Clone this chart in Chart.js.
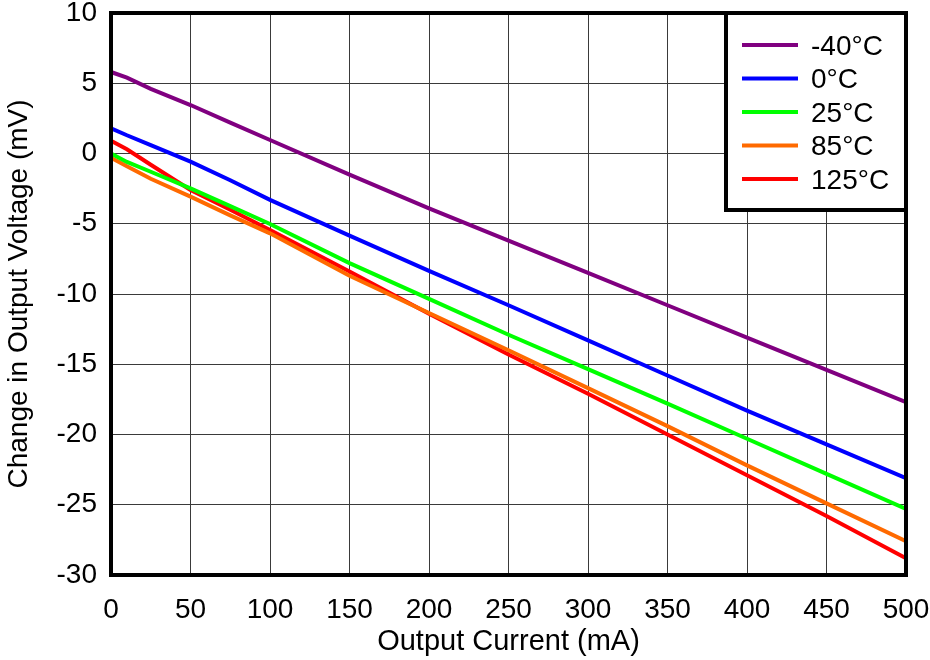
<!DOCTYPE html>
<html>
<head>
<meta charset="utf-8">
<script src="https://cdn.jsdelivr.net/npm/chart.js@4"></script>
<style>
    body { margin: 0; background: #fff; }
    #wrap { width: 930px; height: 660px; }
</style>
</head>
<body>
<div id="wrap"><canvas id="chart" width="930" height="660"></canvas></div>
<script>
// Output current points (mA)
const currents = [0, 10, 25, 50, 75, 100, 150, 200, 250, 300, 350, 400, 450, 500];

// Change in output voltage (mV) for each temperature
const minus40 = [5.8, 5.4, 4.6, 3.45, 2.2, 0.96, -1.5, -3.9, -6.2, -8.5, -10.8, -13.1, -15.4, -17.7];
const zeroC = [1.8, 1.3, 0.6, -0.58, -1.9, -3.3, -5.85, -8.35, -10.8, -13.3, -15.8, -18.3, -20.7, -23.1];
const plus25 = [0, -0.6, -1.3, -2.48, -3.75, -5.02, -7.8, -10.35, -12.9, -15.35, -17.8, -20.3, -22.8, -25.3];
const plus85 = [-0.3, -0.9, -1.8, -3.07, -4.4, -5.68, -8.7, -11.35, -14.0, -16.7, -19.4, -22.2, -24.9, -27.6];
const plus125 = [0.9, 0.3, -0.8, -2.6, -4.0, -5.45, -8.4, -11.4, -14.3, -17.1, -20.0, -22.9, -25.8, -28.8];

// Legend labels and line colours
const seriesLabels = ["-40°C", "0°C", "25°C", "85°C", "125°C"];
const seriesColours = ["#800080", "#0000ff", "#00ff00", "#ff6a00", "#ff0000"];
const seriesValues = [minus40, zeroC, plus25, plus85, plus125];

const font = "'Liberation Sans', Arial, sans-serif";

// Turn the arrays into x/y points
function toPoints(values) {
    return currents.map((c, i) => ({ x: c, y: values[i] }));
}

const datasets = seriesLabels.map((label, i) => ({
    label: label,
    data: toPoints(seriesValues[i]),
    borderColor: seriesColours[i],
    borderWidth: 4,
    pointRadius: 0,
    fill: false,
    tension: 0
}));

// Thick frame round the plot and the legend box inside it
const framePlugin = {
    id: "frame",
    afterDraw(chart) {
        const ctx = chart.ctx;
        const a = chart.chartArea;
        ctx.save();
        ctx.strokeStyle = "#000";
        ctx.lineWidth = 4;
        ctx.strokeRect(a.left, a.top, a.right - a.left, a.bottom - a.top);

        // Legend box in the top right corner
        const boxLeft = 726;
        const boxTop = a.top;
        const boxW = a.right - boxLeft;
        const boxH = 197;
        ctx.fillStyle = "#fff";
        ctx.fillRect(boxLeft, boxTop, boxW, boxH);
        ctx.lineWidth = 4;
        ctx.strokeRect(boxLeft, boxTop, boxW, boxH);

        ctx.font = "28px " + font;
        ctx.textBaseline = "middle";
        ctx.textAlign = "left";
        chart.data.datasets.forEach((ds, i) => {
            const y = 45 + i * 33.5;
            ctx.strokeStyle = ds.borderColor;
            ctx.lineWidth = 4;
            ctx.beginPath();
            ctx.moveTo(742, y);
            ctx.lineTo(798, y);
            ctx.stroke();
            ctx.fillStyle = "#000";
            ctx.fillText(ds.label, 811, y + 2);
        });
        ctx.restore();
    }
};

const ctx = document.getElementById("chart").getContext("2d");
const chart = new Chart(ctx, {
    type: "line",
    data: { datasets: datasets },
    options: {
        responsive: false,
        animation: false,
        layout: { padding: { top: 13, right: 24, left: 0, bottom: 0 } },
        plugins: {
            legend: { display: false },
            tooltip: { enabled: false }
        },
        scales: {
            x: {
                type: "linear",
                min: 0,
                max: 500,
                ticks: { stepSize: 50, color: "#000", font: { family: font, size: 28 }, padding: 18, maxRotation: 0 },
                grid: { color: "#3a3a3a", lineWidth: 1, drawTicks: false },
                border: { display: false },
                title: { display: true, text: "Output Current (mA)", color: "#000", font: { family: font, size: 29 }, padding: { top: 0, bottom: 1 } },
                afterFit(scale) {
                    scale.height = 85;
                    scale.paddingLeft = 0;
                    scale.paddingRight = 0;
                }
            },
            y: {
                min: -30,
                max: 10,
                ticks: { stepSize: 5, color: "#000", font: { family: font, size: 28 }, padding: 14 },
                grid: { color: "#3a3a3a", lineWidth: 1, drawTicks: false },
                border: { display: false },
                title: { display: true, text: "Change in Output Voltage (mV)", color: "#000", font: { family: font, size: 28 }, padding: { top: 2, bottom: 0 } },
                afterFit(scale) {
                    scale.width = 111;
                    scale.paddingTop = 0;
                    scale.paddingBottom = 0;
                }
            }
        }
    },
    plugins: [framePlugin]
});
</script>
</body>
</html>
